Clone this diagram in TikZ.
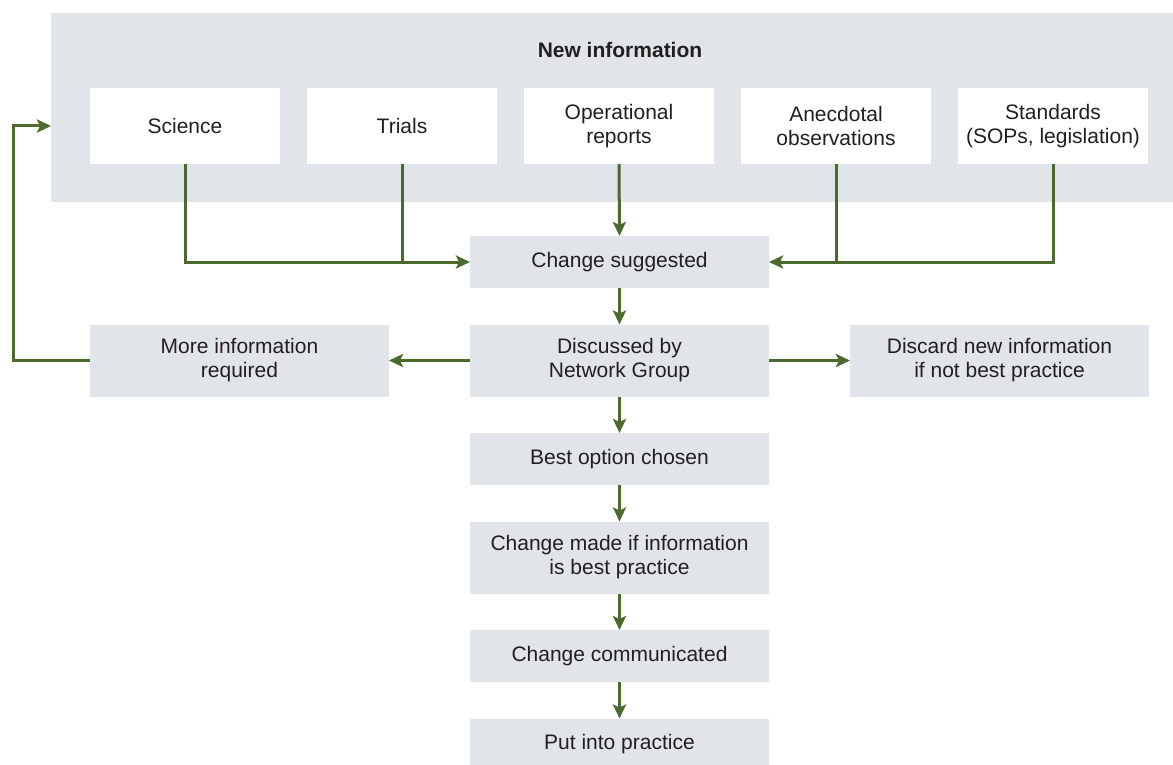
\documentclass[tikz,border=0pt]{standalone}
\usepackage{fontspec}
\setmainfont{Liberation Sans}
\usetikzlibrary{arrows.meta,positioning}
\definecolor{boxgrey}{HTML}{E1E4E8}
\definecolor{flowgreen}{HTML}{4B6A2D}
\definecolor{textgrey}{HTML}{231F20}

\begin{document}
\begin{tikzpicture}[x=1pt,y=1pt,node distance=36.5pt and 81pt,>={Stealth[length=14pt,width=13pt,inset=3pt]}]
  \tikzstyle{source}=[rectangle,fill=white,minimum width=190pt,minimum height=76pt,align=center,inner sep=0pt,outer sep=0pt]
  \tikzstyle{stage}=[rectangle,fill=boxgrey,minimum width=299pt,minimum height=52pt,align=center,inner sep=0pt,outer sep=0pt]
  \tikzstyle{twoline}=[minimum height=72pt]
  \tikzstyle{flow}=[draw=flowgreen,line width=3pt]
  \tikzstyle{every node}=[text=textgrey,font=\fontsize{21}{24}\selectfont]

  \useasboundingbox (0,0) rectangle (1173,-765);

  % Panel with the sources.
  \node [rectangle,fill=boxgrey,minimum width=1122pt,minimum height=189pt,inner sep=0pt,outer sep=0pt] (panel) at (612,-107.5) {};
  \node [font=\fontsize{21}{24}\selectfont\bfseries] (title) at (620,-50) {New information};

  \node [source] (s1) at (185,-126) {Science};
  \node [source] (s2) [right=27pt of s1] {Trials};
  \node [source] (s3) [right=27pt of s2] {Operational\\reports};
  \node [source] (s4) [right=27pt of s3] {Anecdotal\\observations};
  \node [source] (s5) [right=27pt of s4] {Standards\\(SOPs, legislation)};

  % Main column.
  \node [stage] (cs) at (619.5,-262) {Change suggested};
  \node [stage,twoline] (dg) [below=of cs] {Discussed by\\Network Group};
  \node [stage,twoline] (mi) [left=of dg] {More information\\required};
  \node [stage,twoline] (dn) [right=of dg] {Discard new information\\if not best practice};
  \node [stage] (bo) [below=of dg] {Best option chosen};
  \node [stage,twoline] (cm) [below=of bo] {Change made if information\\is best practice};
  \node [stage] (cc) [below=of cm] {Change communicated};
  \node [stage] (pp) [below=of cc] {Put into practice};

  % Sources feed the suggestion.
  \draw [flow,->] (s1.south) |- (cs.west);
  \draw [flow] (s2.south) -- (s2.south |- cs.west);
  \draw [flow,->] (s3.south) -- (cs.north);
  \draw [flow,->] (s5.south) |- (cs.east);
  \draw [flow] (s4.south) -- (s4.south |- cs.east);

  \draw [flow,->] (cs) -- (dg);
  \draw [flow,->] (dg) -- (mi);
  \draw [flow,->] (dg) -- (dn);
  \draw [flow,->] (dg) -- (bo);
  \draw [flow,->] (bo) -- (cm);
  \draw [flow,->] (cm) -- (cc);
  \draw [flow,->] (cc) -- (pp);

  % Loop back for more information.
  \coordinate (back) at ([xshift=-77pt]mi.west);
  \draw [flow,->] (mi.west) -- (back) |- (s1.west -| panel.west);
\end{tikzpicture}
\end{document}
